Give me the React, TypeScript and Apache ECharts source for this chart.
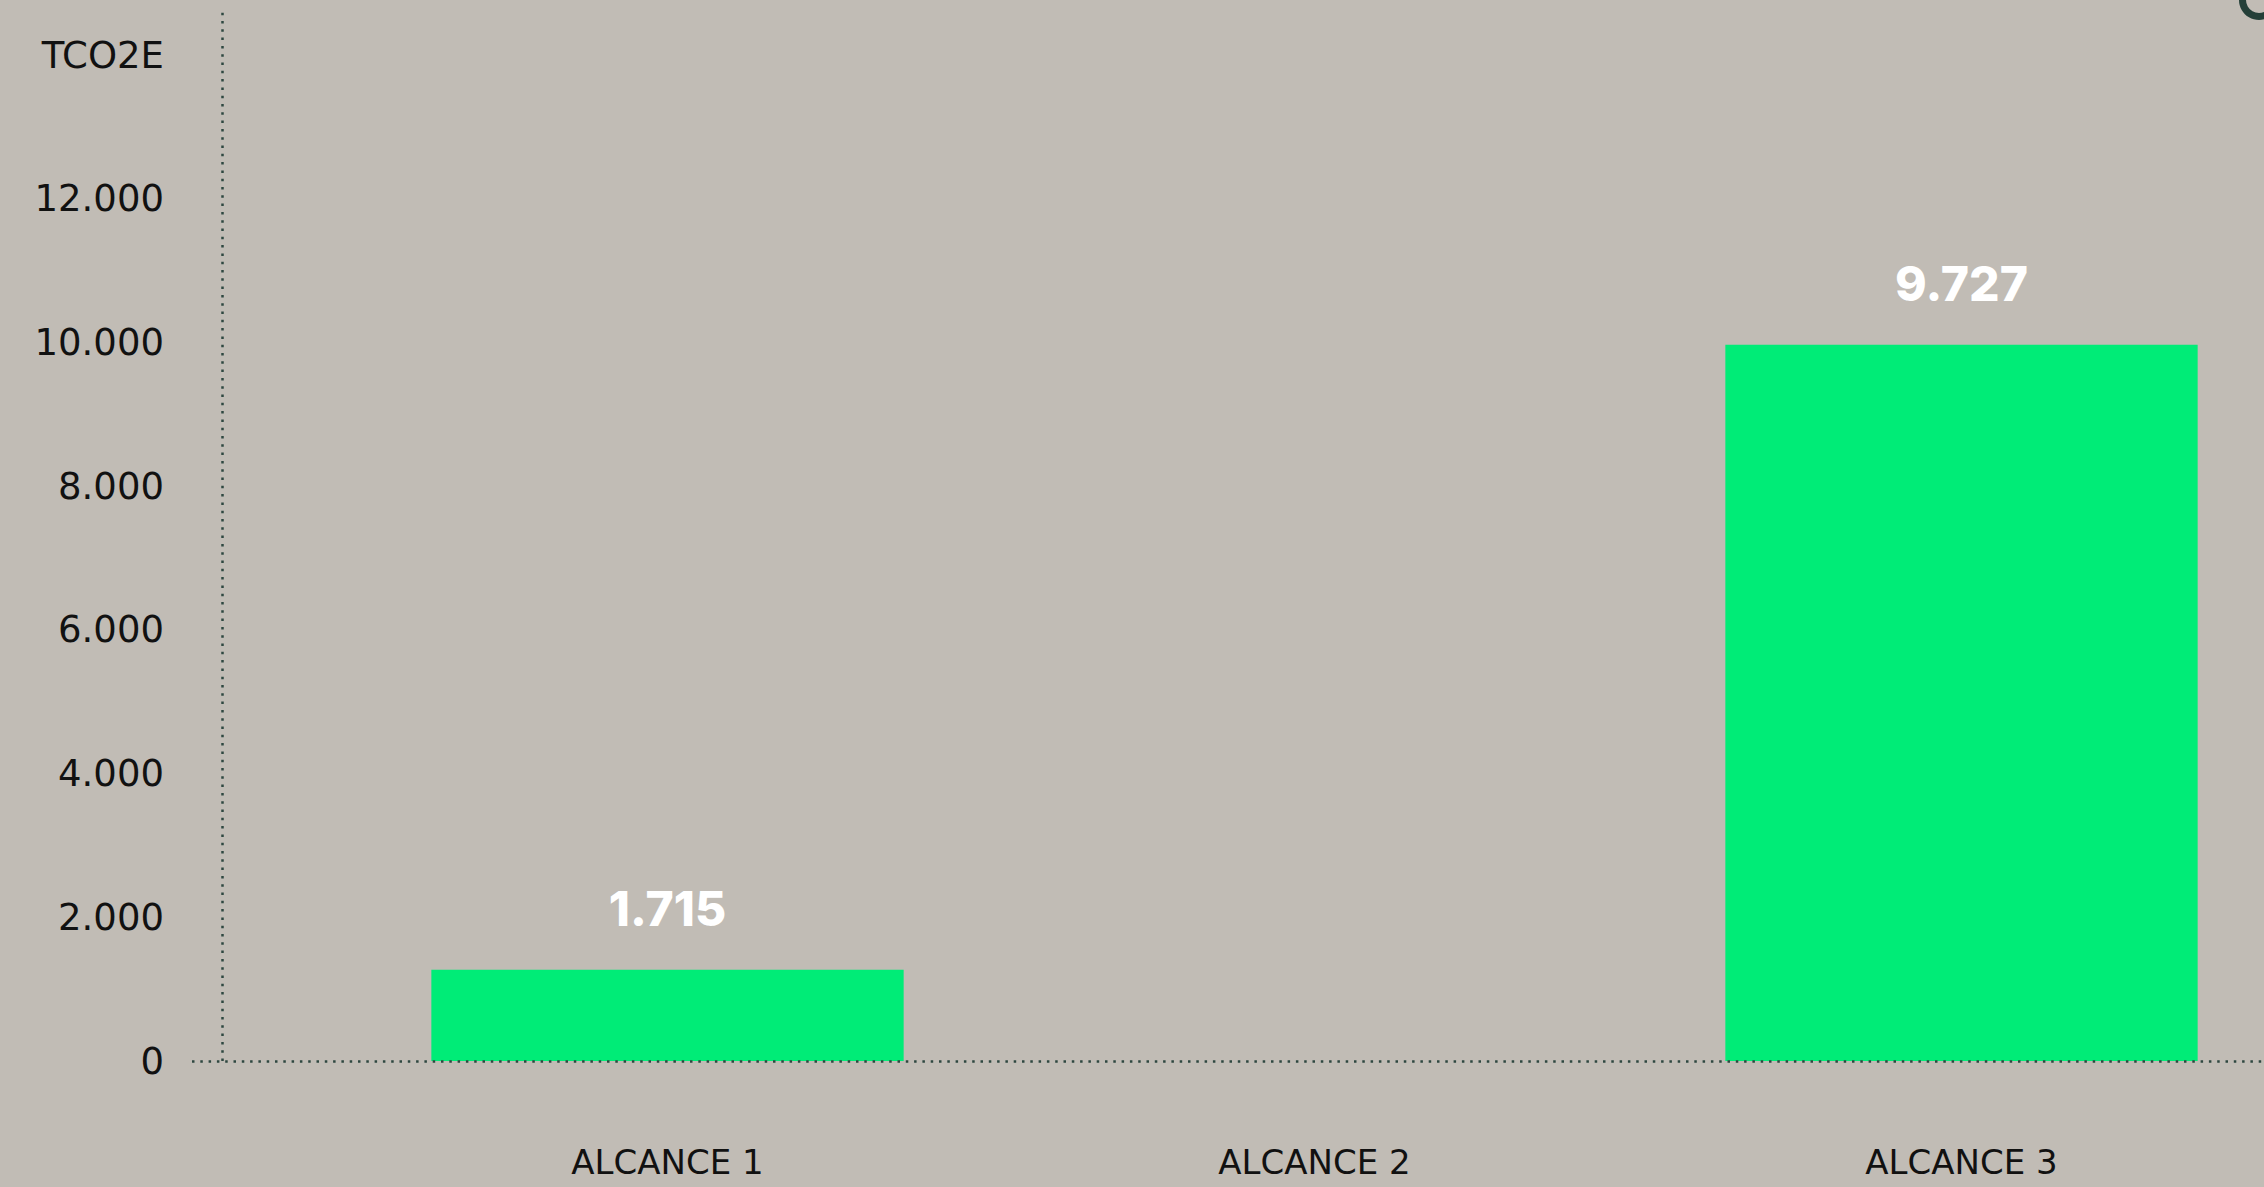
import React, { useEffect, useRef } from "react";
import * as echarts from "echarts";

// ---- data ----
const categories: string[] = ["ALCANCE 1", "ALCANCE 2", "ALCANCE 3"];
// bar heights as drawn in the picture (tCO2e)
const barValues: number[] = [1270, 0, 9970];
// value labels printed above the bars
const valueLabels: string[] = ["1.715", "", "9.727"];
const yTickValues: number[] = [0, 2000, 4000, 6000, 8000, 10000, 12000, 14000];
const yTickLabels: string[] = ["0", "2.000", "4.000", "6.000", "8.000", "10.000", "12.000", "TCO2E"];
const yMax = 14600;
const yInterval = 2000;

const BG = "#c1bcb5";
const GREEN = "#00ec77";
const DOT = "#2e4740";
const AXIS_FONT = "'DejaVu Sans', Inter, sans-serif";
const LABEL_FONT = "Inter, 'Noto Sans', sans-serif";

const dotted = { type: [2.5, 5.8] as number[], width: 2.5, color: DOT, cap: "butt" as const };

export default function App() {
  const ref = useRef<HTMLDivElement | null>(null);

  useEffect(() => {
    if (!ref.current) return;
    const chart = echarts.init(ref.current, null, { renderer: "svg" });
    chart.setOption({
      animation: false,
      backgroundColor: BG,
      textStyle: { fontFamily: AXIS_FONT },
      grid: [
        { left: 344, width: 1941, top: 12, bottom: 126, outerBoundsMode: "none", containLabel: false },
        { left: 192, right: 0, top: 12, bottom: 126, outerBoundsMode: "none", containLabel: false },
      ],
      xAxis: [
        {
          gridIndex: 0,
          type: "category",
          data: categories,
          axisLine: { show: false },
          axisTick: { show: false },
          axisLabel: { color: "#111111", fontSize: 34, margin: 84, fontFamily: AXIS_FONT },
          splitLine: { show: false },
        },
        {
          gridIndex: 1,
          type: "value",
          min: 0,
          max: 1,
          z: 5,
          axisLine: { show: true, lineStyle: dotted },
          axisTick: { show: false },
          axisLabel: { show: false },
          splitLine: { show: false },
        },
      ],
      yAxis: [
        {
          gridIndex: 0,
          type: "value",
          min: 0,
          max: yMax,
          interval: yInterval,
          offset: 122,
          z: 5,
          axisLine: { show: true, lineStyle: dotted },
          axisTick: { show: false },
          splitLine: { show: false },
          axisLabel: {
            color: "#111111",
            fontSize: 37,
            margin: 58,
            fontFamily: AXIS_FONT,
            showMaxLabel: true,
            formatter: (v: number) => {
              const i = yTickValues.indexOf(v);
              return i >= 0 ? yTickLabels[i] : "";
            },
          },
        },
        {
          gridIndex: 1,
          type: "value",
          show: false,
          min: 0,
          max: yMax,
        },
      ],
      graphic: [
        {
          type: "ring",
          shape: { cx: 2259, cy: 0, r: 20, r0: 13 },
          style: { fill: "#243f38" },
        },
      ],
      series: [
        {
          type: "bar",
          xAxisIndex: 0,
          yAxisIndex: 0,
          data: barValues,
          barWidth: "73%",
          itemStyle: { color: GREEN },
          label: {
            show: true,
            position: "top",
            distance: 37,
            color: "#ffffff",
            fontSize: 48,
            fontWeight: 800,
            fontFamily: LABEL_FONT,
            formatter: (p: any) => valueLabels[p.dataIndex] ?? "",
          },
        },
      ],
    });
    return () => chart.dispose();
  }, []);

  return (
    <div
      ref={ref}
      style={{ position: "fixed", left: 0, top: 0, width: 2264, height: 1187 }}
    />
  );
}
